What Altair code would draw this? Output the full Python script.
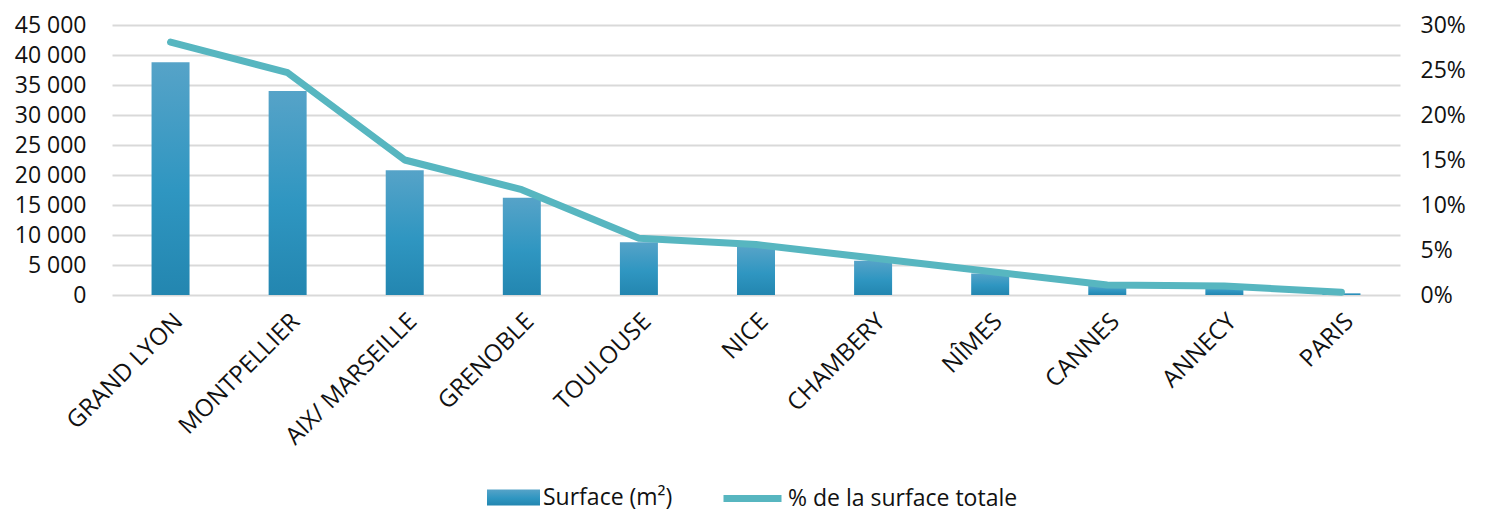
import altair as alt
import pandas as pd

cities = ["GRAND LYON", "MONTPELLIER", "AIX/ MARSEILLE", "GRENOBLE", "TOULOUSE",
          "NICE", "CHAMBERY", "NÎMES", "CANNES", "ANNECY", "PARIS"]
surface = [38800, 34000, 20800, 16200, 8800, 8000, 5700, 3600, 1500, 1400, 300]
pct = [28.1, 24.7, 15.0, 11.7, 6.3, 5.6, 4.1, 2.6, 1.1, 1.0, 0.3]
left_ticks = [0, 5000, 10000, 15000, 20000, 25000, 30000, 35000, 40000, 45000]
right_ticks = [0, 5, 10, 15, 20, 25, 30]

df = pd.DataFrame({"ville": cities, "surface": surface, "pct": pct})

FONT = "Open Sans"
FS = 23
TXT = "#111111"

x_enc = alt.X("ville:N", sort=cities, title=None,
              scale=alt.Scale(paddingInner=0.0, paddingOuter=0.0),
              axis=alt.Axis(labelAngle=315, labelFontSize=24, labelFont=FONT, labelColor=TXT,
                            domain=False, ticks=False, labelPadding=14, grid=False,
                            labelLimit=400))

grad = alt.Gradient(gradient="linear",
                    stops=[alt.GradientStop(color="#56a3c8", offset=0),
                           alt.GradientStop(color="#2f96c1", offset=0.55),
                           alt.GradientStop(color="#2386b0", offset=1)],
                    x1=0, x2=0, y1=0, y2=1)

bars = alt.Chart(df).mark_bar(size=38, fill=grad, strokeWidth=0, strokeOpacity=0).encode(
    x=x_enc,
    y=alt.Y("surface:Q", title=None,
            scale=alt.Scale(domain=[0, 45000]),
            axis=alt.Axis(values=left_ticks, orient="left", labelFontSize=FS, labelFont=FONT,
                          labelColor=TXT, domain=False, ticks=False, labelPadding=26,
                          grid=True, gridColor="#d9d9d9", gridWidth=2,
                          labelExpr="replace(format(datum.value, ',d'), ',', ' ')")),
    stroke=alt.Stroke("s:N", scale=alt.Scale(domain=["Surface (m²)"], range=["#2e91bc"]),
                      legend=alt.Legend(title=None, orient="none", legendX=375, legendY=446,
                                        symbolType="M-1,-0.3H1V0.3H-1Z", symbolSize=2809,
                                        symbolFillColor="#2e91bc", symbolStrokeWidth=0,
                                        labelFontSize=FS, labelFont=FONT, labelColor=TXT,
                                        labelOffset=3, labelLimit=400)),
).transform_calculate(s="'Surface (m²)'")

line = alt.Chart(df).mark_line(strokeWidth=7, strokeCap="round", strokeJoin="round").encode(
    x=alt.X("ville:N", sort=cities),
    y=alt.Y("pct:Q", title=None,
            scale=alt.Scale(domain=[0, 30]),
            axis=alt.Axis(values=right_ticks, orient="right", labelFontSize=FS, labelFont=FONT,
                          labelColor=TXT, domain=False, ticks=False, labelPadding=20, grid=False,
                          labelExpr="datum.value + '%'")),
    color=alt.Color("l:N", scale=alt.Scale(domain=["% de la surface totale"], range=["#57b6c0"]),
                    legend=alt.Legend(title=None, orient="none", legendX=608, legendY=441,
                                      symbolType="stroke", symbolSize=3364, symbolStrokeWidth=7,
                                      symbolStrokeColor="#57b6c0",
                                      labelFontSize=FS, labelFont=FONT, labelColor=TXT,
                                      labelOffset=3, labelLimit=400)),
).transform_calculate(l="'% de la surface totale'")

chart = alt.layer(bars, line).resolve_scale(y="independent", color="independent",
                                            stroke="independent").properties(
    width=1288, height=270,
    autosize=alt.AutoSizeParams(type="none"),
    padding={"left": 112, "top": 25, "right": 94, "bottom": 215},
).configure_view(stroke=None)

chart.save("out.html", embed_options={"renderer": "svg", "actions": False})
